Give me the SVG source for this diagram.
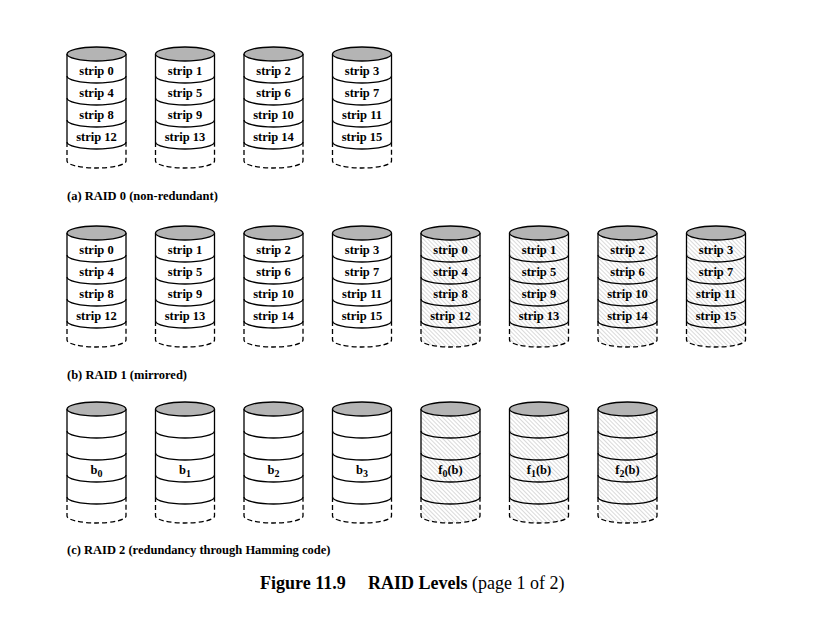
<svg xmlns="http://www.w3.org/2000/svg" xmlns:xlink="http://www.w3.org/1999/xlink" width="824" height="637" viewBox="0 0 824 637">
<style>
.ln{fill:none;stroke:#000;stroke-width:1.3}
.ds{fill:none;stroke:#000;stroke-width:1.3;stroke-dasharray:5 3}
.top{fill:#b4b4b4;stroke:#000;stroke-width:1.3}
.lbl{font-family:"Liberation Serif","Times New Roman",serif;font-weight:bold;font-size:12.5px;text-anchor:middle;fill:#000}
.cap{font-family:"Liberation Serif","Times New Roman",serif;font-weight:bold;font-size:12.5px;fill:#000}
.sub{font-size:10px}
.ttl{font-family:"Liberation Serif","Times New Roman",serif;font-size:18px;fill:#000}
</style>
<defs>
<pattern id="hatch" width="3" height="3" patternUnits="userSpaceOnUse" patternTransform="rotate(-45)">
<rect width="3" height="3" fill="#fff"/>
<line x1="0" y1="0" x2="0" y2="3" stroke="#b4b4b4" stroke-width="1"/>
</pattern>
<g id="cylLines">
<path class="ln" d="M-29.5,0V88M29.5,0V88"/>
<path class="ln" d="M-29.5,22A29.5,7 0 0 0 29.5,22M-29.5,44A29.5,7 0 0 0 29.5,44M-29.5,66A29.5,7 0 0 0 29.5,66M-29.5,88A29.5,7 0 0 0 29.5,88"/>
<path class="ds" d="M-29.5,88V107A29.5,7 0 0 0 29.5,107V88"/>
<ellipse class="top" cx="0" cy="0" rx="29.5" ry="7"/>
</g>
<g id="cyl">
<path d="M-29.5,0V107A29.5,7 0 0 0 29.5,107V0Z" fill="#fff"/>
<use xlink:href="#cylLines" href="#cylLines"/>
</g>
<g id="cylH">
<path d="M-29.5,0V107A29.5,7 0 0 0 29.5,107V0Z" fill="url(#hatch)"/>
<use xlink:href="#cylLines" href="#cylLines"/>
</g>
</defs>

<!-- (a) RAID 0 -->
<g id="r0d0" transform="translate(96.5,54)"><use href="#cyl" xlink:href="#cyl"/><text class="lbl" y="20.5">strip 0</text><text class="lbl" y="42.5">strip 4</text><text class="lbl" y="64.5">strip 8</text><text class="lbl" y="86.5">strip 12</text></g>
<g id="r0d1" transform="translate(185,54)"><use href="#cyl" xlink:href="#cyl"/><text class="lbl" y="20.5">strip 1</text><text class="lbl" y="42.5">strip 5</text><text class="lbl" y="64.5">strip 9</text><text class="lbl" y="86.5">strip 13</text></g>
<g id="r0d2" transform="translate(273.5,54)"><use href="#cyl" xlink:href="#cyl"/><text class="lbl" y="20.5">strip 2</text><text class="lbl" y="42.5">strip 6</text><text class="lbl" y="64.5">strip 10</text><text class="lbl" y="86.5">strip 14</text></g>
<g id="r0d3" transform="translate(362,54)"><use href="#cyl" xlink:href="#cyl"/><text class="lbl" y="20.5">strip 3</text><text class="lbl" y="42.5">strip 7</text><text class="lbl" y="64.5">strip 11</text><text class="lbl" y="86.5">strip 15</text></g>
<text class="cap" x="67" y="199.5">(a) RAID 0 (non-redundant)</text>

<!-- (b) RAID 1 -->
<g id="r1d0" transform="translate(96.5,233)"><use href="#cyl" xlink:href="#cyl"/><text class="lbl" y="20.5">strip 0</text><text class="lbl" y="42.5">strip 4</text><text class="lbl" y="64.5">strip 8</text><text class="lbl" y="86.5">strip 12</text></g>
<g id="r1d1" transform="translate(185,233)"><use href="#cyl" xlink:href="#cyl"/><text class="lbl" y="20.5">strip 1</text><text class="lbl" y="42.5">strip 5</text><text class="lbl" y="64.5">strip 9</text><text class="lbl" y="86.5">strip 13</text></g>
<g id="r1d2" transform="translate(273.5,233)"><use href="#cyl" xlink:href="#cyl"/><text class="lbl" y="20.5">strip 2</text><text class="lbl" y="42.5">strip 6</text><text class="lbl" y="64.5">strip 10</text><text class="lbl" y="86.5">strip 14</text></g>
<g id="r1d3" transform="translate(362,233)"><use href="#cyl" xlink:href="#cyl"/><text class="lbl" y="20.5">strip 3</text><text class="lbl" y="42.5">strip 7</text><text class="lbl" y="64.5">strip 11</text><text class="lbl" y="86.5">strip 15</text></g>
<g id="r1m0" transform="translate(450.5,233)"><use href="#cylH" xlink:href="#cylH"/><text class="lbl" y="20.5">strip 0</text><text class="lbl" y="42.5">strip 4</text><text class="lbl" y="64.5">strip 8</text><text class="lbl" y="86.5">strip 12</text></g>
<g id="r1m1" transform="translate(539,233)"><use href="#cylH" xlink:href="#cylH"/><text class="lbl" y="20.5">strip 1</text><text class="lbl" y="42.5">strip 5</text><text class="lbl" y="64.5">strip 9</text><text class="lbl" y="86.5">strip 13</text></g>
<g id="r1m2" transform="translate(627.5,233)"><use href="#cylH" xlink:href="#cylH"/><text class="lbl" y="20.5">strip 2</text><text class="lbl" y="42.5">strip 6</text><text class="lbl" y="64.5">strip 10</text><text class="lbl" y="86.5">strip 14</text></g>
<g id="r1m3" transform="translate(716,233)"><use href="#cylH" xlink:href="#cylH"/><text class="lbl" y="20.5">strip 3</text><text class="lbl" y="42.5">strip 7</text><text class="lbl" y="64.5">strip 11</text><text class="lbl" y="86.5">strip 15</text></g>
<text class="cap" x="67" y="378.5">(b) RAID 1 (mirrored)</text>

<!-- (c) RAID 2 -->
<g id="r2d0" transform="translate(96.5,409)"><use href="#cyl" xlink:href="#cyl"/><text class="lbl" y="64.5">b<tspan class="sub" dy="3">0</tspan></text></g>
<g id="r2d1" transform="translate(185,409)"><use href="#cyl" xlink:href="#cyl"/><text class="lbl" y="64.5">b<tspan class="sub" dy="3">1</tspan></text></g>
<g id="r2d2" transform="translate(273.5,409)"><use href="#cyl" xlink:href="#cyl"/><text class="lbl" y="64.5">b<tspan class="sub" dy="3">2</tspan></text></g>
<g id="r2d3" transform="translate(362,409)"><use href="#cyl" xlink:href="#cyl"/><text class="lbl" y="64.5">b<tspan class="sub" dy="3">3</tspan></text></g>
<g id="r2f0" transform="translate(450.5,409)"><use href="#cylH" xlink:href="#cylH"/><text class="lbl" y="64.5">f<tspan class="sub" dy="3">0</tspan><tspan dy="-3">(b)</tspan></text></g>
<g id="r2f1" transform="translate(539,409)"><use href="#cylH" xlink:href="#cylH"/><text class="lbl" y="64.5">f<tspan class="sub" dy="3">1</tspan><tspan dy="-3">(b)</tspan></text></g>
<g id="r2f2" transform="translate(627.5,409)"><use href="#cylH" xlink:href="#cylH"/><text class="lbl" y="64.5">f<tspan class="sub" dy="3">2</tspan><tspan dy="-3">(b)</tspan></text></g>
<text class="cap" x="67" y="554">(c) RAID 2 (redundancy through Hamming code)</text>

<g id="connectors"/>

<text class="ttl" y="589"><tspan x="260" font-weight="bold">Figure 11.9</tspan><tspan x="368" font-weight="bold">RAID Levels</tspan><tspan> (page 1 of 2)</tspan></text>
</svg>
